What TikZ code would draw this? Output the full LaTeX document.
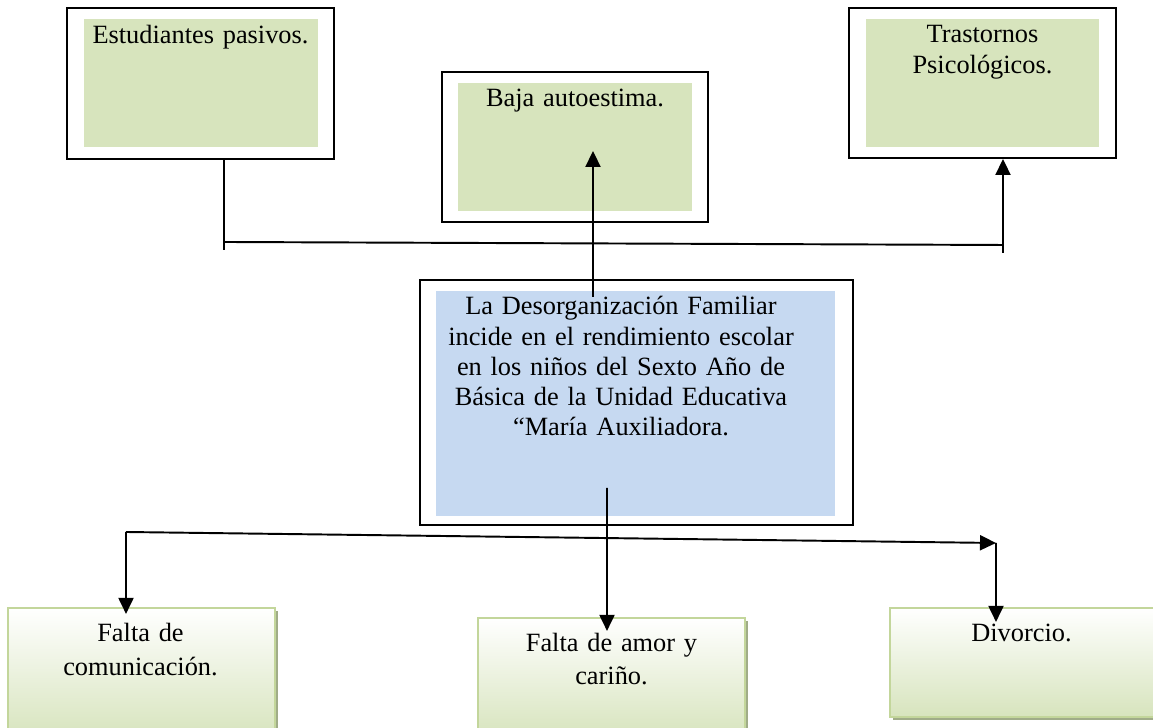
\documentclass[tikz,border=0pt]{standalone}
\usepackage{fontspec}
\setmainfont{Liberation Serif}
\usetikzlibrary{arrows.meta,shadows}
\definecolor{verdeclaro}{RGB}{215,228,189}
\definecolor{azulclaro}{RGB}{198,217,241}
\definecolor{bordeverde}{RGB}{195,214,155}
\definecolor{sombraverde}{RGB}{160,172,136}
\begin{document}
\begin{tikzpicture}[
	marco/.style={draw, line width=1.1pt, inner sep=0pt},
	verde/.style={fill=verdeclaro, inner sep=0pt},
	azul/.style={fill=azulclaro, inner sep=0pt},
	caja/.style={draw=bordeverde, line width=1.2pt, top color=white, bottom color=verdeclaro, inner sep=0pt, drop shadow={shadow xshift=0.6mm, shadow yshift=-0.6mm, fill=sombraverde, opacity=1}},
	texto/.style={font=\fontsize{15}{17.1}\selectfont, anchor=base, align=center, text width=#1, inner sep=0pt},
	texto/.default=7.5cm,
	abajo/.style={font=\fontsize{15}{18.8}\selectfont},
	linea/.style={line width=1.1pt},
	flecha/.style={line width=1.1pt, -{Triangle[length=3.2mm,width=3mm]}}
]
	\useasboundingbox (0,0) rectangle (23.06,14.56);
	\node[marco, minimum width=5.34cm, minimum height=3.02cm] (pasivos) at (4.01,12.89) {};
	\node[verde, minimum width=4.68cm, minimum height=2.56cm] (pasivosfondo) at (4.02,12.90) {};
	\node[texto=5cm] (pasivostexto) at (4.01,13.68) {Estudiantes pasivos.};
	\node[marco, minimum width=5.32cm, minimum height=3cm] (baja) at (11.50,11.62) {};
	\node[verde, minimum width=4.68cm, minimum height=2.56cm] (bajafondo) at (11.50,11.62) {};
	\node[texto=5cm] (bajatexto) at (11.50,12.42) {Baja autoestima.};
	\node[marco, minimum width=5.34cm, minimum height=3cm] (trastornos) at (19.65,12.90) {};
	\node[verde, minimum width=4.66cm, minimum height=2.56cm] (trastornosfondo) at (19.65,12.90) {};
	\node[texto=5cm] (trastornostexto) at (19.65,13.70) {Trastornos\\Psicológicos.};
	\node[marco, minimum width=8.66cm, minimum height=4.9cm] (problema) at (12.73,6.51) {};
	\node[azul, minimum width=7.98cm, minimum height=4.5cm] (problemafondo) at (12.71,6.49) {};
	\node[texto] (problematexto) at (12.42,8.26) {La Desorganización Familiar\\incide en el rendimiento escolar\\en los niños del Sexto Año de\\Básica de la Unidad Educativa\\“María Auxiliadora.};
	\node[caja, minimum width=5.34cm, minimum height=2.6cm] (comunicacion) at (2.83,1.10) {};
	\node[texto=5cm, abajo] (comunicaciontexto) at (2.81,1.72) {Falta de\\comunicación.};
	\node[caja, minimum width=5.34cm, minimum height=2.4cm] (amor) at (12.23,1.00) {};
	\node[texto=5cm, abajo] (amortexto) at (12.23,1.53) {Falta de amor y\\cariño.};
	\node[caja, minimum width=5.34cm, minimum height=2.18cm] (divorcio) at (20.47,1.31) {};
	\node[texto=5cm, abajo] (divorciotexto) at (20.43,1.73) {Divorcio.};
	\coordinate (izq) at (4.48,9.56);
	\coordinate (der) at (20.06,9.50);
	\coordinate (unionizq) at (4.48,9.72);
	\coordinate (unionder) at (20.06,9.66);
	\draw[linea] ([xshift=4.7mm]pasivos.south) -- (izq);
	\draw[linea] (unionizq) -- (unionder);
	\draw[flecha] (der) -- ([xshift=4.1mm]trastornos.south);
	\coordinate (centroarriba) at (11.86,8.62);
	\draw[flecha] (centroarriba) -- ([xshift=3.6mm,yshift=14.4mm]baja.south);
	\coordinate (centroabajo) at (12.14,4.80);
	\draw[flecha] (centroabajo) -- ([xshift=-0.9mm,yshift=-2.8mm]amor.north);
	\coordinate (ramaizq) at (2.52,3.92);
	\coordinate (ramader) at (19.92,3.70);
	\draw[flecha] (ramaizq) -- (ramader);
	\draw[flecha] (ramaizq) -- ([xshift=-3.1mm,yshift=-1.4mm]comunicacion.north);
	\draw[flecha] (ramader) -- ([xshift=-5.5mm,yshift=-3mm]divorcio.north);
\end{tikzpicture}
\end{document}
